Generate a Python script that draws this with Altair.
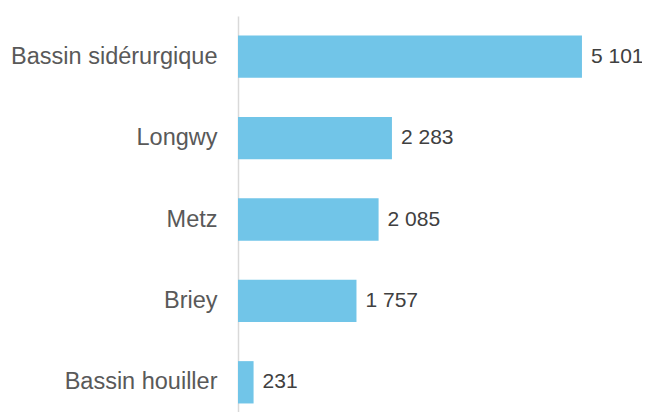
import altair as alt
import pandas as pd

categories = ["Bassin sidérurgique", "Longwy", "Metz", "Briey", "Bassin houiller"]
values = [5101, 2283, 2085, 1757, 231]
labels = ["5 101", "2 283", "2 085", "1 757", "231"]

df = pd.DataFrame({"cat": categories, "val": values, "lab": labels})

y = alt.Y("cat:N", sort=categories, title=None,
          scale=alt.Scale(paddingInner=0.48, paddingOuter=0.24),
          axis=alt.Axis(domainColor="#d9d9d9", domainWidth=1.5, ticks=False,
                        labelFont="Liberation Sans", labelFontSize=23.5,
                        labelColor="#595959", labelPadding=21, labelLimit=400))
x = alt.X("val:Q", title=None, scale=alt.Scale(domain=[0, 5858], nice=False),
          axis=None)

bars = alt.Chart(df).mark_bar(color="#71C5E8").encode(x=x, y=y)
text = alt.Chart(df).mark_text(align="left", baseline="middle", dx=9,
                               font="Liberation Sans", fontSize=21,
                               color="#404040").encode(x=x, y=y, text="lab:N")

chart = (bars + text).properties(
    width=395, height=407,
    padding={"left": 230, "top": 8, "right": 9, "bottom": 0},
    autosize=alt.AutoSizeParams(type="none"),
).configure(background="white").configure_view(stroke=None)

chart.save("out.html", embed_options={"renderer": "svg", "actions": False})
